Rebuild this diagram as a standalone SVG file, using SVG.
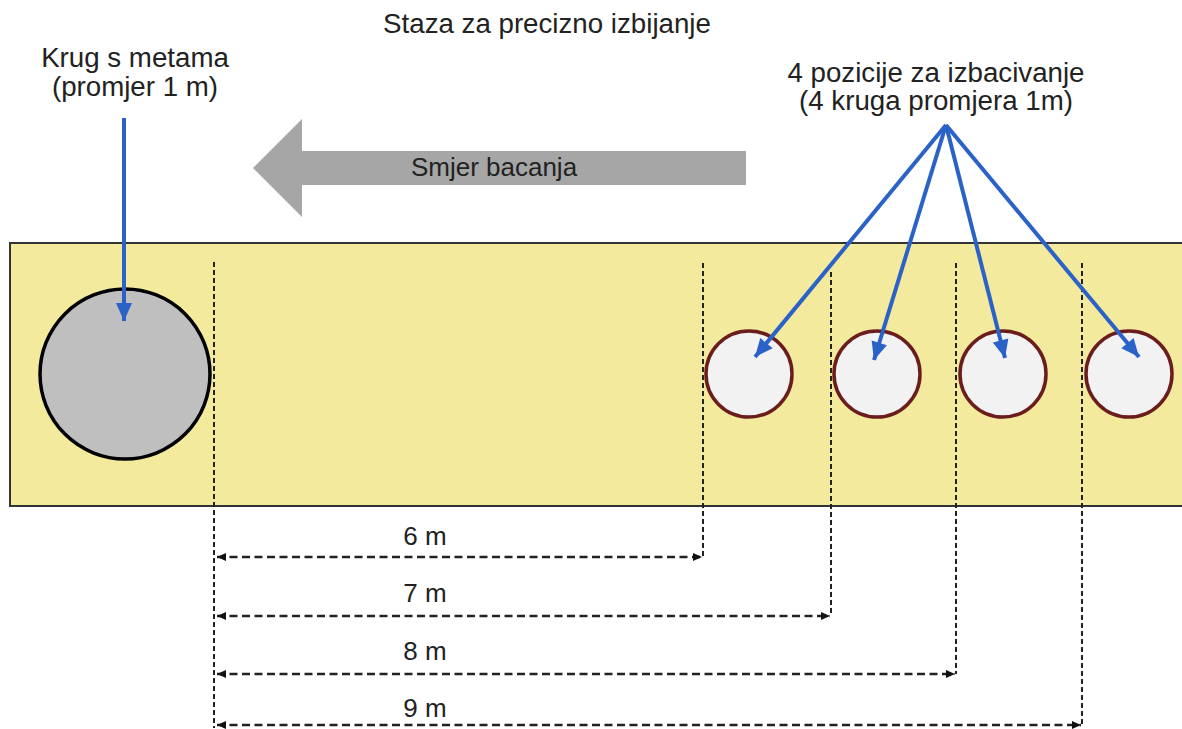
<svg xmlns="http://www.w3.org/2000/svg" width="1182" height="729" viewBox="0 0 1182 729">
<defs>
<style>
text{font-family:"Liberation Sans",Arial,sans-serif;fill:#222;}
.lbl{font-size:27.7px;text-anchor:middle;}
.dim{font-size:26px;text-anchor:middle;}
.blue{stroke:#2a62c8;stroke-width:4;fill:none;}
.vdash{stroke:#222;stroke-width:2;stroke-dasharray:5 3;fill:none;}
.hdash{stroke:#222;stroke-width:2.6;stroke-dasharray:8 4.5;fill:none;}
.pos{fill:#f2f2f2;stroke:#6b1c1c;stroke-width:3.5;}
</style>
<marker id="ab" markerUnits="userSpaceOnUse" markerWidth="22" markerHeight="22" viewBox="0 0 22 22" refX="20" refY="11" orient="auto">
<path d="M2,3 L20,11 L2,19 Z" fill="#2a62c8"/>
</marker>
<marker id="ak" markerUnits="userSpaceOnUse" markerWidth="12" markerHeight="12" viewBox="0 0 12 12" refX="11" refY="6" orient="auto-start-reverse">
<path d="M2,2 L11,6 L2,10 Z" fill="#111"/>
</marker>
</defs>
<rect width="1182" height="729" fill="#fff"/>

<g id="title"><text class="lbl" x="547" y="33">Staza za precizno izbijanje</text></g>

<g id="throw-direction">
<polygon points="253,168 302,119 302,151 746,151 746,185 302,185 302,217" fill="#a6a6a6"/>
<text x="494" y="176" style="font-size:26px;text-anchor:middle">Smjer bacanja</text>
</g>

<g id="lane"><rect x="10" y="243" width="1190" height="263" fill="#f3ea9d" stroke="#333" stroke-width="2"/></g>

<g id="target-circle"><circle cx="125" cy="374" r="85" fill="#bfbfbf" stroke="#000" stroke-width="3.5"/></g>

<g id="label-target">
<text class="lbl" x="135" y="67">Krug s metama</text>
<text class="lbl" x="135" y="96">(promjer 1 m)</text>
</g>

<g id="label-positions">
<text class="lbl" x="936" y="82">4 pozicije za izbacivanje</text>
<text class="lbl" x="936" y="110">(4 kruga promjera 1m)</text>
</g>

<g id="pos1"><circle class="pos" cx="749" cy="374" r="43"/></g>
<g id="pos2"><circle class="pos" cx="877" cy="374" r="43"/></g>
<g id="pos3"><circle class="pos" cx="1003" cy="374" r="43"/></g>
<g id="pos4"><circle class="pos" cx="1129" cy="374" r="43"/></g>

<g id="connectors">
<line class="vdash" x1="214" y1="262" x2="214" y2="728"/>
<line class="vdash" x1="703" y1="263" x2="703" y2="557"/>
<line class="vdash" x1="831" y1="272" x2="831" y2="616"/>
<line class="vdash" x1="956" y1="263" x2="956" y2="674"/>
<line class="vdash" x1="1082" y1="263" x2="1082" y2="726"/>

<line class="hdash" x1="217" y1="557" x2="702" y2="557" marker-start="url(#ak)" marker-end="url(#ak)"/>
<line class="hdash" x1="217" y1="616" x2="830" y2="616" marker-start="url(#ak)" marker-end="url(#ak)"/>
<line class="hdash" x1="217" y1="674" x2="955" y2="674" marker-start="url(#ak)" marker-end="url(#ak)"/>
<line class="hdash" x1="217" y1="725" x2="1081" y2="725" marker-start="url(#ak)" marker-end="url(#ak)"/>

<line class="blue" x1="124" y1="118" x2="124" y2="321" marker-end="url(#ab)"/>
<line class="blue" x1="946" y1="125" x2="755" y2="357" marker-end="url(#ab)"/>
<line class="blue" x1="946" y1="125" x2="874" y2="360" marker-end="url(#ab)"/>
<line class="blue" x1="946" y1="125" x2="1005" y2="358" marker-end="url(#ab)"/>
<line class="blue" x1="946" y1="125" x2="1139" y2="357" marker-end="url(#ab)"/>
</g>

<g id="dim-labels">
<text class="dim" x="425" y="545">6 m</text>
<text class="dim" x="425" y="602">7 m</text>
<text class="dim" x="425" y="660">8 m</text>
<text class="dim" x="425" y="717">9 m</text>
</g>
</svg>
